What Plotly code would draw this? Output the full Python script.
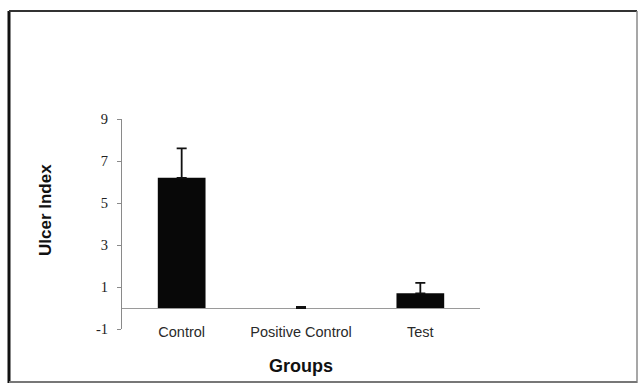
import plotly.graph_objects as go

# Ulcer index by treatment group (mean with upper error bar)
groups = ["Control", "Positive Control", "Test"]
ulcer_index = [6.2, 0.0, 0.7]
ulcer_err = [1.4, 0.05, 0.5]
y_ticks = [-1, 1, 3, 5, 7, 9]
y_tick_labels = ["-1", "1", "3", "5", "7", "9"]

W, H = 639, 384
L, R, T, B = 122, 159, 119, 55
pw, ph = W - L - R, H - T - B


def px_x(v):
    return (v - L) / pw


def px_y(v):
    return (H - B - v) / ph


fig = go.Figure()
fig.add_trace(go.Bar(
    x=list(range(len(groups))),
    y=ulcer_index,
    width=0.4,
    marker=dict(color="#080808", line=dict(width=0)),
    error_y=dict(type="data", array=ulcer_err, arrayminus=[0] * len(groups),
                 symmetric=False, color="#111111", thickness=1.8, width=5),
    showlegend=False,
))

fig.update_layout(
    width=W, height=H,
    margin=dict(l=L, r=R, t=T, b=B, pad=0),
    paper_bgcolor="white", plot_bgcolor="white",
    xaxis=dict(
        range=[-0.5, 2.5],
        tickvals=list(range(len(groups))), ticktext=groups,
        showgrid=False, zeroline=False, showline=False, ticks="",
        anchor="free", position=0.035,
        tickfont=dict(family="Liberation Sans, Arial", size=14.5, color="#2a2a2a"),
        title=dict(text="<b>Groups</b>", standoff=20,
                   font=dict(family="Liberation Sans, Arial", size=18, color="#111")),
        automargin=False,
    ),
    yaxis=dict(
        range=[-1, 9], tickvals=y_ticks, ticktext=y_tick_labels,
        showgrid=False, showline=True, linecolor="#8a8a8a", linewidth=1,
        ticks="outside", ticklen=4, tickcolor="#8a8a8a",
        zeroline=True, zerolinecolor="#9a9a9a", zerolinewidth=1,
        ticklabelstandoff=6,
        tickfont=dict(family="Liberation Serif, Times New Roman", size=14.5, color="#222"),
        automargin=False,
    ),
)

# Vertical axis title, placed a little above the plot's mid-height
fig.add_annotation(
    text="<b>Ulcer Index</b>", textangle=-90, showarrow=False,
    xref="paper", yref="paper", x=px_x(45), y=px_y(210),
    xanchor="center", yanchor="middle",
    font=dict(family="Liberation Sans, Arial", size=17, color="#111"),
)

# Frame around the figure panel
frame = [
    (9, 11, 9, 383, "#111111", 3),
    (9, 11, 637, 11, "#333333", 2),
    (637, 11, 637, 383, "#8a8a8a", 1.5),
    (9, 382, 637, 382, "#777777", 2),
]
for x0, y0, x1, y1, c, w in frame:
    fig.add_shape(type="line", xref="paper", yref="paper",
                  x0=px_x(x0), y0=px_y(y0), x1=px_x(x1), y1=px_y(y1),
                  line=dict(color=c, width=w))

fig.write_html("out.html")
